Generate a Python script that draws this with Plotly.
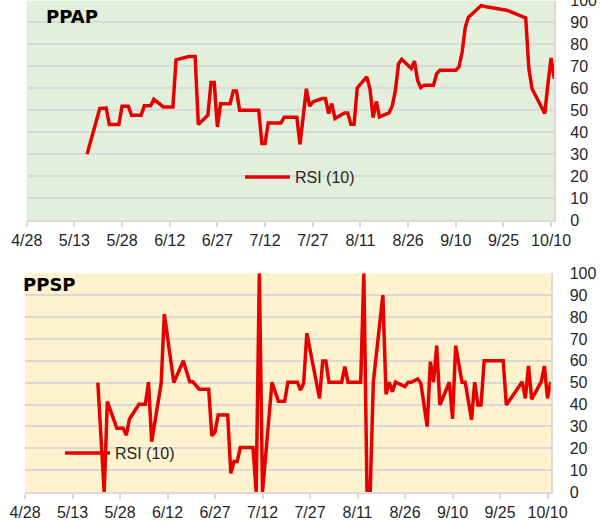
import plotly.graph_objects as go

# ---------------- data ----------------
ppap_dates = ["2019-05-17","2019-05-21","2019-05-23","2019-05-24","2019-05-27","2019-05-28","2019-05-30","2019-05-31",
              "2019-06-03","2019-06-04","2019-06-06","2019-06-07","2019-06-10","2019-06-13","2019-06-14","2019-06-18",
              "2019-06-20","2019-06-21","2019-06-24","2019-06-25","2019-06-26","2019-06-27","2019-06-28","2019-07-01",
              "2019-07-02","2019-07-03","2019-07-04","2019-07-10","2019-07-11","2019-07-12","2019-07-13","2019-07-17",
              "2019-07-18","2019-07-22","2019-07-23","2019-07-25","2019-07-26","2019-07-27","2019-07-30","2019-07-31",
              "2019-08-01","2019-08-02","2019-08-03","2019-08-06","2019-08-07","2019-08-08","2019-08-09","2019-08-10",
              "2019-08-13","2019-08-14","2019-08-15","2019-08-16","2019-08-17","2019-08-20","2019-08-21","2019-08-22",
              "2019-08-23","2019-08-24","2019-08-27","2019-08-28","2019-08-29","2019-08-30","2019-08-31","2019-09-03",
              "2019-09-04","2019-09-05","2019-09-10","2019-09-11","2019-09-12","2019-09-13","2019-09-14","2019-09-18",
              "2019-09-20","2019-09-25","2019-09-26","2019-10-02","2019-10-03","2019-10-04","2019-10-08","2019-10-09",
              "2019-10-10","2019-10-11"]
ppap_rsi = [30, 50.8, 51, 43.5, 43.5, 51.8, 51.8, 47.7,
            47.7, 52, 52, 55, 51.5, 51.5, 73, 74.5,
            74.5, 43.5, 47.7, 62.6, 62.6, 42.4, 53, 53,
            58.8, 58.8, 50, 50, 34.8, 34.8, 44.2, 44.2,
            46.8, 46.8, 34.5, 59.8, 51.8, 53.8, 55.3, 55.3,
            48.5, 53, 46.2, 48.8, 48.8, 43.6, 43.6, 60.2,
            65.2, 59.8, 46.7, 54, 47, 48.8, 51.8, 59,
            71.2, 73.2, 69, 72.4, 63.6, 60.3, 61.4, 61.4,
            66.7, 68.2, 68.2, 69.7, 76.5, 87.9, 92.4, 97.7,
            97, 95.8, 95.6, 92.1, 69, 59.8, 48.5, 62,
            73.8, 64.4]

ppsp_dates = ["2019-05-21","2019-05-23","2019-05-24","2019-05-27","2019-05-29","2019-05-30","2019-05-31","2019-06-03",
              "2019-06-05","2019-06-06","2019-06-07","2019-06-10","2019-06-11","2019-06-13","2019-06-14","2019-06-17",
              "2019-06-19","2019-06-20","2019-06-22","2019-06-25","2019-06-26","2019-06-27","2019-06-28","2019-07-01",
              "2019-07-02","2019-07-03","2019-07-04","2019-07-05","2019-07-09","2019-07-10","2019-07-11","2019-07-12",
              "2019-07-15","2019-07-17","2019-07-19","2019-07-20","2019-07-23","2019-07-24","2019-07-25","2019-07-26",
              "2019-07-30","2019-07-31","2019-08-01","2019-08-02","2019-08-06","2019-08-07","2019-08-08","2019-08-12",
              "2019-08-13","2019-08-14","2019-08-15","2019-08-16","2019-08-19","2019-08-20","2019-08-21","2019-08-22",
              "2019-08-23","2019-08-26","2019-08-27","2019-08-28","2019-08-30","2019-08-31","2019-09-02","2019-09-03",
              "2019-09-04","2019-09-05","2019-09-06","2019-09-09","2019-09-10","2019-09-11","2019-09-13","2019-09-14",
              "2019-09-16","2019-09-17","2019-09-18","2019-09-19","2019-09-20","2019-09-26","2019-09-27","2019-10-02",
              "2019-10-03","2019-10-04","2019-10-05","2019-10-08","2019-10-09","2019-10-10","2019-10-11"]
ppsp_rsi = [50, 0, 41.3, 29.1, 29.1, 26, 33.4, 40.1,
            40.1, 50.2, 23, 49.7, 81.4, 60.8, 50, 60,
            50.4, 50.4, 47, 47, 25.7, 27.3, 35.2, 35.2,
            8.5, 13.9, 13.9, 20.3, 20.3, 0, 100, 0,
            50.2, 41.5, 41.5, 50.2, 50.2, 46.6, 49.7, 72.6,
            42.8, 59.9, 59.9, 50.2, 50.2, 57.3, 50.2, 50.2,
            100, 0, 0, 50.4, 90, 44.7, 50.2, 45.9,
            50.2, 48.2, 50.2, 50.2, 51.7, 49.7, 29.9, 59.6,
            50.2, 66.9, 39.8, 50.2, 33.4, 66.9, 50.2, 50.2,
            33, 50.2, 39.8, 39.8, 60, 60, 39.8, 50.4,
            42.8, 57.6, 42.4, 50.4, 57.6, 42.8, 50.4]

tick_dates = ["2019-04-28","2019-05-13","2019-05-28","2019-06-12","2019-06-27","2019-07-12",
              "2019-07-27","2019-08-11","2019-08-26","2019-09-10","2019-09-25","2019-10-10"]
tick_labels = ["4/28","5/13","5/28","6/12","6/27","7/12","7/27","8/11","8/26","9/10","9/25","10/10"]
y_ticks = list(range(0, 101, 10))
panel_titles = ["PPAP", "PPSP"]
series_name = "RSI (10)"

# ---------------- figure ----------------
W, H = 600, 521
RED = "#e60000"
GRID = "#d9d9d9"
TXT = "#262626"

fig = go.Figure()
fig.add_trace(go.Scatter(x=ppap_dates, y=ppap_rsi, mode="lines", name=series_name,
                         line=dict(color=RED, width=3.5), xaxis="x", yaxis="y", legend="legend"))
fig.add_trace(go.Scatter(x=ppsp_dates, y=ppsp_rsi, mode="lines", name=series_name,
                         line=dict(color=RED, width=3.5), xaxis="x2", yaxis="y2", legend="legend2"))

def px_x(p):
    return p / W

def px_y(p):
    return (H - p) / H

xcommon = dict(type="date", range=["2019-04-28", "2019-10-11"], tickvals=tick_dates, ticktext=tick_labels,
               showgrid=False, showline=True, linecolor=GRID, linewidth=1.5, ticks="outside",
               ticklen=5, tickwidth=1.5, tickcolor=GRID, tickfont=dict(family="Liberation Sans", size=16, color=TXT),
               zeroline=False, fixedrange=True, automargin=False)
ycommon = dict(range=[0, 100], tickvals=y_ticks, side="right", showgrid=True, gridcolor=GRID, gridwidth=1.5,
               showline=True, linecolor=GRID, linewidth=1.5, ticks="", zeroline=False, automargin=False,
               ticklabeloverflow="allow",
               tickfont=dict(family="Liberation Sans", size=16, color=TXT), fixedrange=True)

fig.update_layout(
    width=W, height=H, margin=dict(l=0, r=0, t=0, b=0, autoexpand=False),
    paper_bgcolor="white", plot_bgcolor="rgba(0,0,0,0)",
    xaxis=dict(domain=[px_x(26.7), px_x(554.3)], anchor="y", **xcommon),
    yaxis=dict(domain=[px_y(220), px_y(0.5)], anchor="x", ticklabelstandoff=11, **ycommon),
    xaxis2=dict(domain=[px_x(25), px_x(550.7)], anchor="y2", **xcommon),
    yaxis2=dict(domain=[px_y(492), px_y(273.3)], anchor="x2", ticklabelstandoff=14, **ycommon),
    legend=dict(x=px_x(240), y=px_y(177), xanchor="left", yanchor="middle", bgcolor="rgba(0,0,0,0)",
                itemwidth=45, font=dict(family="Liberation Sans", size=16, color=TXT)),
    legend2=dict(x=px_x(60), y=px_y(453), xanchor="left", yanchor="middle", bgcolor="rgba(0,0,0,0)",
                 itemwidth=45, font=dict(family="Liberation Sans", size=16, color=TXT)),
    showlegend=True,
)

fig.add_shape(type="rect", xref="x domain", yref="y domain", x0=0, x1=1, y0=0, y1=1,
              fillcolor="#e2efda", line=dict(width=0), layer="below")
fig.add_shape(type="rect", xref="x2 domain", yref="y2 domain", x0=0, x1=1, y0=0, y1=1,
              fillcolor="#fff2cc", line=dict(width=0), layer="below")

fig.add_annotation(text="<b>" + panel_titles[0] + "</b>", xref="paper", yref="paper",
                   x=px_x(44), y=px_y(16.5), xanchor="left", yanchor="middle", showarrow=False,
                   font=dict(family="DejaVu Sans", size=18, color="black"))
fig.add_annotation(text="<b>" + panel_titles[1] + "</b>", xref="paper", yref="paper",
                   x=px_x(21), y=px_y(284), xanchor="left", yanchor="middle", showarrow=False,
                   font=dict(family="DejaVu Sans", size=18, color="black"))

fig.write_html("out.html", config={"displayModeBar": False},
               post_script="document.body.style.margin='0px';document.body.style.overflow='hidden';")
